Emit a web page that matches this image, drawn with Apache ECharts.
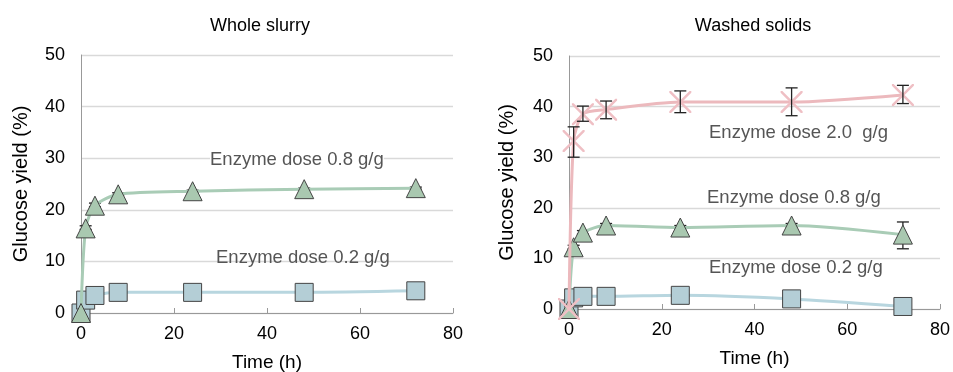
<!DOCTYPE html>
<html>
<head>
<meta charset="utf-8">
<script src="https://cdn.jsdelivr.net/npm/echarts@6/dist/echarts.min.js"></script>
<style>
  html, body { margin: 0; padding: 0; background: #fff; }
  #chart { width: 953px; height: 372px; }
</style>
</head>
<body>
<div id="chart"></div>
<script>
// time points (h)
var hours = [0, 1, 3, 8, 24, 48, 72];

// whole slurry
var slurryDose08 = [0, 16.4, 20.8, 23.0, 23.6, 24.0, 24.2];
var slurryDose08Low = [0, 16.2, 20.6, 22.8, 23.4, 23.8, 24.0];
var slurryDose08High = [0, 16.9, 21.3, 23.3, 23.8, 24.2, 24.4];
var slurryDose02 = [0, 2.5, 3.4, 4.0, 4.0, 4.0, 4.3];

// washed solids
var washedDose20 = [0, 33.2, 38.5, 39.4, 40.9, 40.9, 42.3];
var washedDose20Low = [0, 30.0, 37.1, 37.6, 38.8, 38.2, 40.6];
var washedDose20High = [0, 36.0, 40.1, 41.1, 43.1, 43.7, 44.2];
var washedDose08 = [0, 12.2, 15.1, 16.5, 16.1, 16.5, 14.7];
var washedDose08Low = [0, 11.9, 14.8, 16.2, 15.8, 16.2, 11.9];
var washedDose08High = [0, 12.6, 15.5, 16.9, 16.5, 16.9, 17.2];
var washedDose02 = [0, 2.2, 2.5, 2.5, 2.7, 2.0, 0.5];

function pairs(ys) {
    var out = [];
    for (var i = 0; i < hours.length; i++) {
        out.push([hours[i], ys[i]]);
    }
    return out;
}
function errPairs(lo, hi) {
    var out = [];
    for (var i = 0; i < hours.length; i++) {
        out.push([hours[i], lo[i], hi[i]]);
    }
    return out;
}

// thin X marker
var crossPath = 'path://M0,0L0.8,0L5,4.2L9.2,0L10,0L10,0.8L5.8,5L10,9.2L10,10L9.2,10L5,5.8L0.8,10L0,10L0,9.2L4.2,5L0,0.8Z';

function errorBars(idx, lo, hi, z) {
    return {
        type: 'custom',
        xAxisIndex: idx,
        yAxisIndex: idx,
        z: z,
        silent: true,
        data: errPairs(lo, hi),
        renderItem: function (params, api) {
            if (api.value(2) - api.value(1) <= 0) return null;
            var top = api.coord([api.value(0), api.value(2)]);
            var bot = api.coord([api.value(0), api.value(1)]);
            var w = 6;
            var st = { stroke: '#222', lineWidth: 1.3 };
            return {
                type: 'group',
                children: [
                    { type: 'line', shape: { x1: top[0], y1: top[1], x2: bot[0], y2: bot[1] }, style: st },
                    { type: 'line', shape: { x1: top[0] - w, y1: top[1], x2: top[0] + w, y2: top[1] }, style: st },
                    { type: 'line', shape: { x1: bot[0] - w, y1: bot[1], x2: bot[0] + w, y2: bot[1] }, style: st }
                ]
            };
        }
    };
}

var font = 'Liberation Sans';

function xAxisDef(idx) {
    return {
        type: 'value', gridIndex: idx, min: 0, max: 80, interval: 20,
        name: 'Time (h)', nameLocation: 'middle', nameGap: 40,
        nameTextStyle: { color: '#000', fontSize: 19, fontFamily: font },
        axisLine: { show: true, lineStyle: { color: '#999', width: 1 } },
        axisTick: { show: true, inside: true, length: 5, lineStyle: { color: '#999' } },
        axisLabel: { color: '#000', fontSize: 18, margin: 12, fontFamily: font },
        splitLine: { show: false }
    };
}
function yAxisDef(idx, gap) {
    return {
        type: 'value', gridIndex: idx, min: 0, max: 50, interval: 10,
        name: 'Glucose yield (%)', nameLocation: 'middle', nameGap: gap,
        nameTextStyle: { color: '#000', fontSize: 20, fontFamily: font },
        axisLine: { show: true, lineStyle: { color: '#999', width: 1 } },
        axisTick: { show: false },
        axisLabel: { color: '#000', fontSize: 18, margin: 16, fontFamily: font },
        splitLine: { show: true, lineStyle: { color: '#d9d9d9', width: 1.3 } }
    };
}

function lineSeries(idx, ys, symbol, size, fill, lineColor, border, z) {
    return {
        type: 'line', xAxisIndex: idx, yAxisIndex: idx, z: z,
        data: pairs(ys), smooth: 0.25,
        symbol: symbol, symbolSize: size,
        lineStyle: { color: lineColor, width: 3 },
        itemStyle: { color: fill, borderColor: border, borderWidth: border === 'none' ? 0 : 1 }
    };
}

var triFill = '#a9c8b0', triLine = '#a9ccb6';
var sqFill = '#b4ced6', sqLine = '#b8d6df';
var xFill = '#efbfc4', xLine = '#ecb9bd';

function note(text, left, top, bg) {
    return {
        type: 'text', left: left, top: top, z: 10,
        style: {
            text: text, fill: '#555', fontSize: 18.5, fontFamily: font,
            backgroundColor: bg || 'transparent'
        }
    };
}

var option = {
    animation: false,
    backgroundColor: '#fff',
    title: [
        { text: 'Whole slurry', left: 255, top: 12, textAlign: 'center',
          textStyle: { color: '#000', fontSize: 18, fontWeight: 'normal', fontFamily: font } },
        { text: 'Washed solids', left: 748, top: 12, textAlign: 'center',
          textStyle: { color: '#000', fontSize: 18, fontWeight: 'normal', fontFamily: font } }
    ],
    grid: [
        { left: 81, top: 55, width: 372, height: 258, outerBoundsMode: 'none' },
        { left: 569, top: 56, width: 371, height: 253, outerBoundsMode: 'none' }
    ],
    xAxis: [xAxisDef(0), xAxisDef(1)],
    yAxis: [yAxisDef(0, 50), yAxisDef(1, 52)],
    graphic: [
        note('Enzyme dose 0.8 g/g', 210, 150, '#fff'),
        note('Enzyme dose 0.2 g/g', 216, 248),
        note('Enzyme dose 2.0  g/g', 709, 123),
        note('Enzyme dose 0.8 g/g', 707, 188),
        note('Enzyme dose 0.2 g/g', 709, 258)
    ],
    series: [
        lineSeries(0, slurryDose02, 'rect', 18, sqFill, sqLine, '#444', 2),
        errorBars(0, slurryDose08Low, slurryDose08High, 3),
        lineSeries(0, slurryDose08, 'triangle', 19, triFill, triLine, '#444', 4),

        lineSeries(1, washedDose02, 'rect', 18, sqFill, sqLine, '#444', 2),
        errorBars(1, washedDose08Low, washedDose08High, 3),
        lineSeries(1, washedDose08, 'triangle', 19, triFill, triLine, '#444', 4),
        lineSeries(1, washedDose20, crossPath, 22, xFill, xLine, 'none', 5),
        errorBars(1, washedDose20Low, washedDose20High, 6)
    ]
};

var myChart = echarts.init(document.getElementById('chart'));
myChart.setOption(option);
</script>
</body>
</html>
